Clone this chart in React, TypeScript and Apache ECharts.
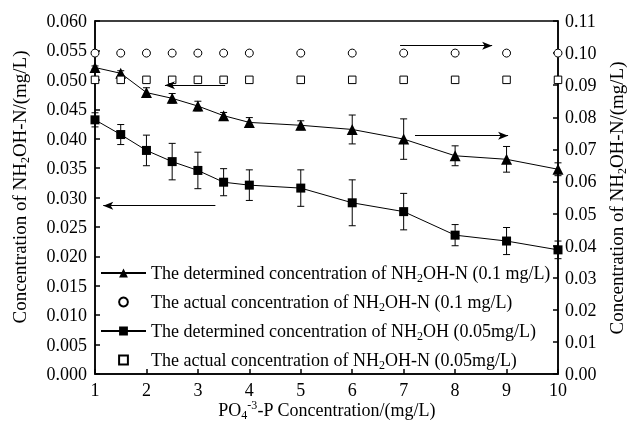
import React, { useEffect, useRef } from "react";
import * as echarts from "echarts";

const xVals = [1, 1.5, 2, 2.5, 3, 3.5, 4, 5, 6, 7, 8, 9, 10];
// right axis
const triVals = [0.0955, 0.0937, 0.0877, 0.0859, 0.0835, 0.0805, 0.0784, 0.0775, 0.0762, 0.0732, 0.068, 0.0669, 0.0638];
const triErr = [0.0005, 0.0008, 0.0015, 0.0015, 0.0015, 0.001, 0.0015, 0.0014, 0.0045, 0.0063, 0.0031, 0.004, 0.002];
const circleVals = [0.1, 0.1, 0.1, 0.1, 0.1, 0.1, 0.1, 0.1, 0.1, 0.1, 0.1, 0.1, 0.1];
// left axis
const sqVals = [0.0432, 0.0407, 0.038, 0.0361, 0.0346, 0.0326, 0.0321, 0.0316, 0.0291, 0.0276, 0.0236, 0.0226, 0.0211];
const sqErr = [0.0012, 0.0017, 0.0026, 0.0031, 0.0031, 0.0023, 0.0026, 0.0031, 0.0039, 0.0031, 0.0018, 0.0023, 0.0015];
const openSqVals = [0.05, 0.05, 0.05, 0.05, 0.05, 0.05, 0.05, 0.05, 0.05, 0.05, 0.05, 0.05, 0.05];

const seriesNames = [
  "The determined concentration of NH2OH-N (0.1 mg/L)",
  "The actual concentration of NH2OH-N (0.1 mg/L)",
  "The determined concentration of NH2OH (0.05mg/L)",
  "The actual concentration of NH2OH-N (0.05mg/L)",
];
const legendRich = [
  "The determined concentration of NH{sub|2}OH-N (0.1 mg/L)",
  "The actual concentration of NH{sub|2}OH-N (0.1 mg/L)",
  "The determined concentration of NH{sub|2}OH (0.05mg/L)",
  "The actual concentration of NH{sub|2}OH-N (0.05mg/L)",
];
// annotation arrows [xStart, yStart(left axis), xEnd, yEnd]
const arrows = [
  [3.53, 0.0491, 2.36, 0.0491],
  [3.34, 0.0286, 1.16, 0.0286],
  [6.93, 0.0558, 8.72, 0.0558],
  [7.22, 0.0405, 9.03, 0.0405],
];

const FONT = '"Times New Roman", "Liberation Serif", serif';

function pairs(vals: number[]) {
  return xVals.map((x, i) => [x, vals[i]]);
}
function errData(vals: number[], errs: number[]) {
  return xVals.map((x, i) => [x, vals[i], errs[i]]);
}

const errorRender = (params: any, api: any) => {
  const x = api.value(0);
  const y = api.value(1);
  const e = api.value(2);
  const hi = api.coord([x, y + e]);
  const lo = api.coord([x, y - e]);
  const w = 3.5;
  const st = { stroke: "#000", lineWidth: 1 };
  return {
    type: "group",
    children: [
      { type: "line", shape: { x1: hi[0], y1: hi[1], x2: lo[0], y2: lo[1] }, style: st },
      { type: "line", shape: { x1: hi[0] - w, y1: hi[1], x2: hi[0] + w, y2: hi[1] }, style: st },
      { type: "line", shape: { x1: lo[0] - w, y1: lo[1], x2: lo[0] + w, y2: lo[1] }, style: st },
    ],
  };
};

const titleRich = { sub: { fontSize: 12, lineHeight: 10, verticalAlign: "bottom", fontFamily: FONT, fill: "#000" } };

export default function App() {
  const ref = useRef<HTMLDivElement>(null);
  useEffect(() => {
    if (!ref.current) return;
    const chart = echarts.init(ref.current, null, { renderer: "svg" });
    const subStyle = { fontSize: 12, lineHeight: 10, verticalAlign: "bottom", fontFamily: FONT, color: "#000" };
    const axisCommon = {
      axisLine: { show: true, lineStyle: { color: "#000", width: 1.5 } },
      axisTick: { show: true, inside: true, length: 5, lineStyle: { color: "#000", width: 1.5 } },
      splitLine: { show: false },
    };
    chart.setOption({
      animation: false,
      grid: { left: 95, top: 21, right: 71, bottom: 55, show: true, borderColor: "#000", borderWidth: 1.5 },
      xAxis: {
        type: "value",
        min: 1,
        max: 10,
        interval: 1,
        ...axisCommon,
        axisLabel: { color: "#000", fontSize: 18, fontFamily: FONT, margin: 7 },
      },
      yAxis: [
        {
          type: "value",
          min: 0,
          max: 0.06,
          interval: 0.005,
          position: "left",
          ...axisCommon,
          axisLabel: { color: "#000", fontSize: 18, fontFamily: FONT, margin: 8, formatter: (v: number) => v.toFixed(3) },
        },
        {
          type: "value",
          min: 0,
          max: 0.11,
          interval: 0.01,
          position: "right",
          ...axisCommon,
          axisLabel: { color: "#000", fontSize: 18, fontFamily: FONT, margin: 7, formatter: (v: number) => v.toFixed(2) },
        },
      ],
      legend: {
        data: seriesNames,
        orient: "vertical",
        left: 95,
        top: 257,
        itemWidth: 45,
        itemHeight: 11,
        itemGap: 7,
        selectedMode: false,
        formatter: (name: string) => legendRich[seriesNames.indexOf(name)],
        textStyle: {
          color: "#000",
          fontSize: 18,
          fontFamily: FONT,
          lineHeight: 22,
          rich: { sub: subStyle },
        },
      },
      graphic: [
        {
          type: "text",
          x: 19,
          y: 187,
          rotation: Math.PI / 2,
          style: {
            text: "Concentration of NH{sub|2}OH-N/(mg/L)",
            fontSize: 19,
            fontFamily: FONT,
            fill: "#000",
            align: "center",
            verticalAlign: "middle",
            lineHeight: 23,
            rich: titleRich,
          },
        },
        {
          type: "text",
          x: 616,
          y: 198,
          rotation: Math.PI / 2,
          style: {
            text: "Concentration of NH{sub|2}OH-N/(mg/L)",
            fontSize: 19,
            fontFamily: FONT,
            fill: "#000",
            align: "center",
            verticalAlign: "middle",
            lineHeight: 23,
            rich: titleRich,
          },
        },
        {
          type: "text",
          x: 327,
          y: 410,
          style: {
            text: "PO{sub|4}{sup|-3}-P Concentration/(mg/L)",
            fontSize: 18,
            fontFamily: FONT,
            fill: "#000",
            align: "center",
            verticalAlign: "middle",
            lineHeight: 22,
            rich: {
              sub: { fontSize: 12, lineHeight: 10, verticalAlign: "bottom", fontFamily: FONT, fill: "#000" },
              sup: { fontSize: 12, lineHeight: 10, verticalAlign: "top", fontFamily: FONT, fill: "#000" },
            },
          },
        },
      ],
      series: [
        {
          type: "custom",
          name: "err-tri",
          yAxisIndex: 1,
          renderItem: errorRender,
          data: errData(triVals, triErr),
          z: 1,
          silent: true,
        },
        {
          type: "custom",
          name: "err-sq",
          yAxisIndex: 0,
          renderItem: errorRender,
          data: errData(sqVals, sqErr),
          z: 1,
          silent: true,
        },
        {
          type: "line",
          name: seriesNames[0],
          yAxisIndex: 1,
          data: pairs(triVals),
          symbol: "triangle",
          symbolSize: 11,
          itemStyle: { color: "#000" },
          lineStyle: { color: "#000", width: 1 },
          z: 3,
        },
        {
          type: "line",
          name: seriesNames[1],
          yAxisIndex: 1,
          data: pairs(circleVals),
          symbol: "circle",
          symbolSize: 8,
          itemStyle: { color: "#fff", borderColor: "#000", borderWidth: 1 },
          lineStyle: { width: 0, opacity: 0 },
          z: 3,
        },
        {
          type: "line",
          name: seriesNames[2],
          yAxisIndex: 0,
          data: pairs(sqVals),
          symbol: "rect",
          symbolSize: 9,
          itemStyle: { color: "#000" },
          lineStyle: { color: "#000", width: 1 },
          z: 3,
          markLine: {
            silent: true,
            symbol: ["none", "arrow"],
            symbolSize: [6, 10],
            label: { show: false },
            lineStyle: { color: "#000", width: 1, type: "solid" },
            emphasis: { disabled: true },
            data: arrows.map((a) => [{ coord: [a[0], a[1]] }, { coord: [a[2], a[3]] }]),
          },
        },
        {
          type: "line",
          name: seriesNames[3],
          yAxisIndex: 0,
          data: pairs(openSqVals),
          symbol: "rect",
          symbolSize: 7.5,
          itemStyle: { color: "#fff", borderColor: "#000", borderWidth: 1 },
          lineStyle: { width: 0, opacity: 0 },
          z: 3,
        },
      ],
    });
    return () => chart.dispose();
  }, []);
  return <div ref={ref} style={{ position: "fixed", left: 0, top: 0, width: 629, height: 429 }} />;
}
